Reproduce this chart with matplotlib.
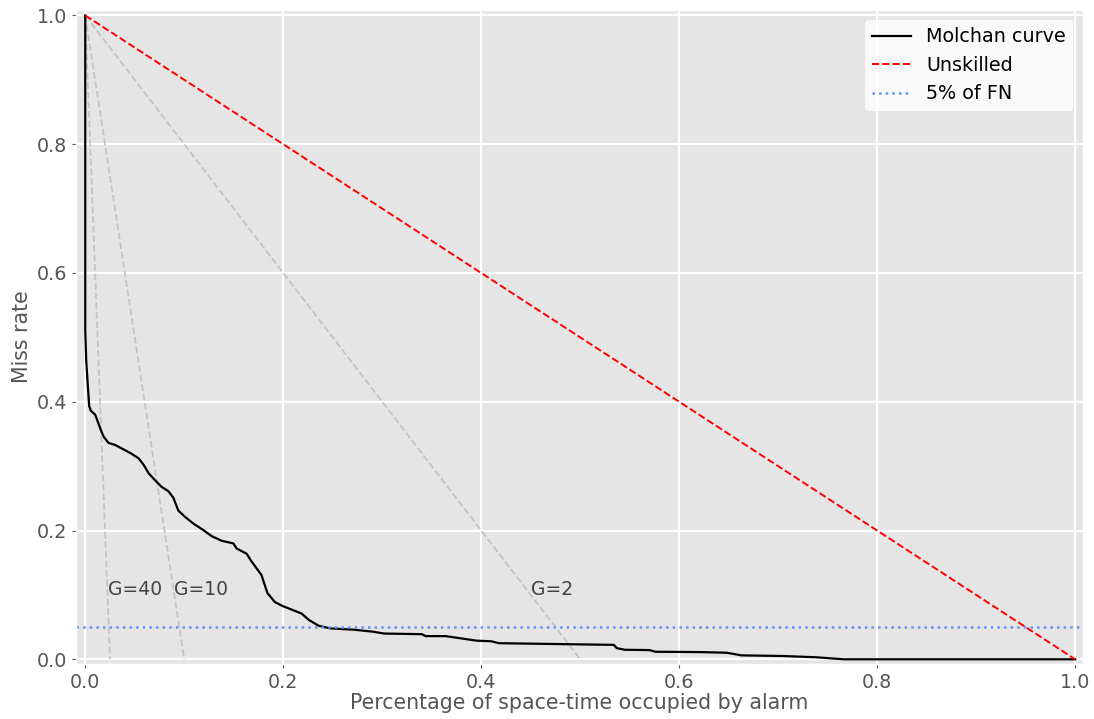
import numpy as np
import matplotlib
matplotlib.use("Agg")
import matplotlib.pyplot as plt

plt.style.use("ggplot")
plt.rcParams["font.family"] = ["DejaVu Sans"]

# Molchan curve
alarm = [0.0, 0.0, 0.001, 0.0024, 0.004, 0.0057, 0.010, 0.0134, 0.0158, 0.0185,
         0.0235, 0.030, 0.0387, 0.047, 0.054, 0.059, 0.064, 0.0706, 0.077, 0.084,
         0.089, 0.094, 0.101, 0.109, 0.119, 0.128, 0.138, 0.1496, 0.153, 0.163,
         0.168, 0.178, 0.184, 0.1915, 0.199, 0.2186, 0.226, 0.236, 0.2475, 0.271,
         0.290, 0.302, 0.340, 0.344, 0.364, 0.395, 0.410, 0.418, 0.534, 0.537,
         0.545, 0.570, 0.576, 0.621, 0.648, 0.663, 0.705, 0.739, 0.766, 1.0]
miss = [1.0, 0.511, 0.464, 0.430, 0.393, 0.386, 0.380, 0.366, 0.356, 0.346,
        0.336, 0.333, 0.326, 0.319, 0.312, 0.302, 0.289, 0.278, 0.268, 0.261,
        0.251, 0.231, 0.221, 0.211, 0.201, 0.191, 0.184, 0.180, 0.172, 0.164,
        0.152, 0.131, 0.103, 0.089, 0.083, 0.071, 0.061, 0.052, 0.048, 0.046,
        0.043, 0.040, 0.039, 0.036, 0.036, 0.029, 0.028, 0.025, 0.0224, 0.0173,
        0.0148, 0.0143, 0.0117, 0.0112, 0.0102, 0.0061, 0.0051, 0.0031, 0.0, 0.0]

gains = [40, 10, 2]
fn_level = 0.05

fig = plt.figure(figsize=(10.94, 7.19), dpi=100)
ax = fig.add_axes([0.0695, 0.0765, 0.9205, 0.9095])

for g in gains:
    ax.plot([0, 1 / g], [1, 0], ls="--", color="#c4c4c4", lw=1.3)
    ax.text(0.9 / g, 0.1, "G=%d" % g, fontsize=13.5, color="#444444")

ax.plot(alarm, miss, color="black", lw=1.6, label="Molchan curve")
ax.plot([0, 1], [1, 0], ls="--", color="red", lw=1.4, label="Unskilled")
ax.axhline(fn_level, ls=":", color="cornflowerblue", lw=1.8, label="5% of FN")

ax.set_xlim(-0.0093, 1.008)
ax.set_ylim(-0.0073, 1.0083)
ax.set_xticks([0.0, 0.2, 0.4, 0.6, 0.8, 1.0])
ax.set_yticks([0.0, 0.2, 0.4, 0.6, 0.8, 1.0])
ax.tick_params(labelsize=13.8, length=3)
ax.grid(color="white", lw=1.5)
ax.set_xlabel("Percentage of space-time occupied by alarm", fontsize=14.8, labelpad=1)
ax.set_ylabel("Miss rate", fontsize=14.8, labelpad=3)

leg = ax.legend(loc="upper right", fontsize=13.8, facecolor="white", framealpha=0.8)
leg.get_frame().set_edgecolor("none")

fig.savefig("out.png", dpi=100)
